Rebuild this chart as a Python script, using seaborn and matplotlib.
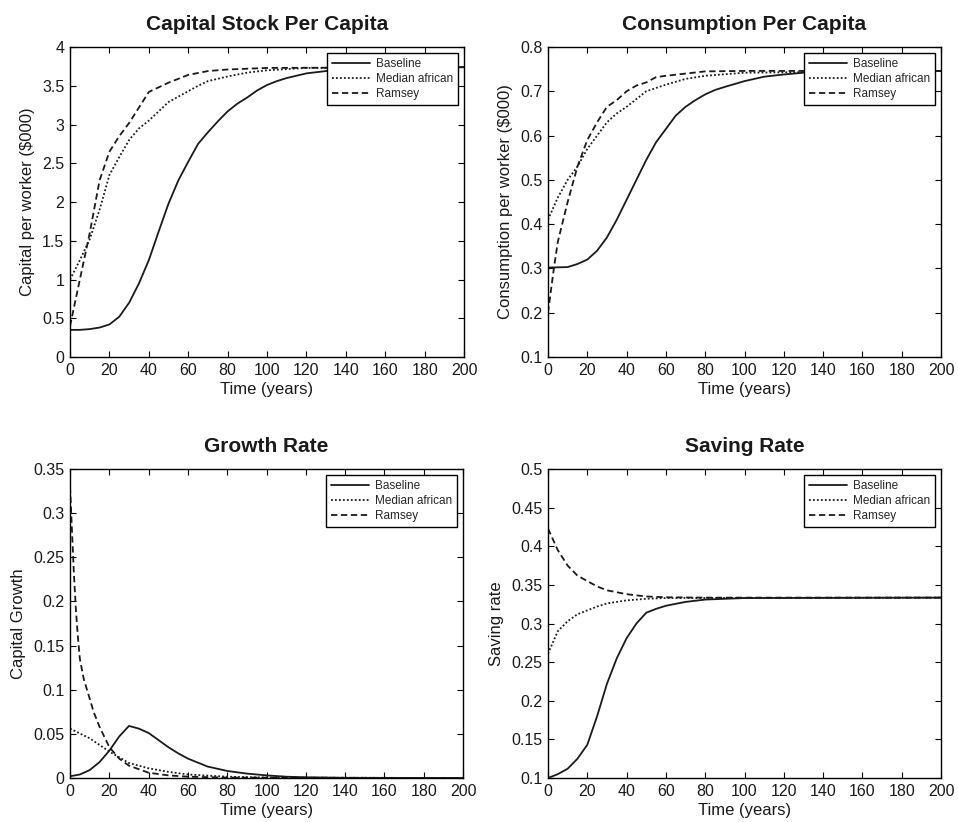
import numpy as np
import pandas as pd
import matplotlib
matplotlib.use("Agg")
import matplotlib.pyplot as plt
from matplotlib.ticker import FuncFormatter
import seaborn as sns

# ---------------- data (time in years) ----------------
# Capital stock per capita
cap_base_t = [0, 5, 10, 15, 20, 25, 30, 35, 40, 45, 50, 55, 60, 65, 70, 75, 80, 85, 90, 95, 100, 105, 110, 115, 120, 130, 140, 150, 160, 200]
cap_base_v = [0.35, 0.35, 0.36, 0.38, 0.42, 0.52, 0.70, 0.95, 1.25, 1.62, 1.98, 2.28, 2.52, 2.75, 2.90, 3.04, 3.17, 3.27, 3.35, 3.44, 3.51, 3.56, 3.60, 3.63, 3.66, 3.69, 3.71, 3.72, 3.73, 3.74]
cap_med_t = [0, 5, 10, 15, 20, 25, 30, 35, 40, 45, 50, 55, 60, 65, 70, 80, 90, 100, 120, 200]
cap_med_v = [1.00, 1.25, 1.52, 1.90, 2.35, 2.58, 2.80, 2.95, 3.05, 3.17, 3.29, 3.36, 3.43, 3.50, 3.56, 3.62, 3.67, 3.70, 3.73, 3.74]
cap_ram_t = [0, 5, 10, 15, 20, 25, 30, 35, 40, 50, 60, 70, 80, 100, 200]
cap_ram_v = [0.40, 1.00, 1.60, 2.28, 2.65, 2.85, 3.02, 3.22, 3.42, 3.54, 3.64, 3.69, 3.71, 3.73, 3.74]

# Consumption per capita
con_base_t = [0, 10, 15, 20, 25, 30, 35, 40, 45, 50, 55, 60, 65, 70, 75, 80, 85, 90, 100, 110, 120, 130, 150, 200]
con_base_v = [0.302, 0.303, 0.310, 0.320, 0.340, 0.370, 0.410, 0.455, 0.500, 0.545, 0.585, 0.615, 0.645, 0.665, 0.680, 0.693, 0.703, 0.710, 0.723, 0.733, 0.738, 0.742, 0.745, 0.746]
con_med_t = [0, 5, 10, 15, 20, 25, 30, 35, 40, 50, 60, 70, 80, 100, 200]
con_med_v = [0.410, 0.460, 0.500, 0.530, 0.570, 0.600, 0.630, 0.650, 0.665, 0.700, 0.715, 0.728, 0.735, 0.742, 0.746]
con_ram_t = [0, 3, 5, 10, 15, 20, 25, 30, 35, 40, 45, 50, 55, 60, 70, 80, 100, 200]
con_ram_v = [0.200, 0.300, 0.360, 0.450, 0.530, 0.590, 0.630, 0.665, 0.680, 0.700, 0.713, 0.720, 0.732, 0.735, 0.740, 0.745, 0.746, 0.746]

# Capital growth rate
gr_base_t = [0, 5, 10, 15, 20, 25, 30, 35, 40, 45, 50, 55, 60, 70, 80, 90, 100, 110, 120, 140, 200]
gr_base_v = [0.002, 0.004, 0.009, 0.018, 0.031, 0.047, 0.059, 0.056, 0.051, 0.043, 0.035, 0.028, 0.022, 0.013, 0.008, 0.005, 0.003, 0.0015, 0.0008, 0.0002, 0.0]
gr_med_t = [0, 10, 20, 30, 40, 50, 60, 80, 100, 200]
gr_med_v = [0.056, 0.045, 0.030, 0.017, 0.011, 0.007, 0.004, 0.0015, 0.0005, 0.0]
gr_ram_t = [0, 1, 2, 3, 4, 5, 7, 10, 12, 15, 20, 25, 30, 40, 50, 60, 80, 200]
gr_ram_v = [0.330, 0.280, 0.230, 0.190, 0.160, 0.135, 0.112, 0.090, 0.075, 0.058, 0.035, 0.022, 0.014, 0.006, 0.003, 0.0015, 0.0005, 0.0]

# Saving rate
sv_base_t = [0, 5, 10, 15, 20, 25, 30, 35, 40, 45, 50, 55, 60, 70, 80, 100, 200]
sv_base_v = [0.100, 0.105, 0.112, 0.125, 0.143, 0.180, 0.222, 0.255, 0.281, 0.300, 0.314, 0.319, 0.323, 0.328, 0.331, 0.333, 0.3335]
sv_med_t = [0, 5, 10, 15, 20, 25, 30, 40, 50, 60, 200]
sv_med_v = [0.261, 0.290, 0.303, 0.312, 0.317, 0.322, 0.326, 0.330, 0.332, 0.333, 0.3335]
sv_ram_t = [0, 5, 10, 15, 20, 25, 30, 40, 50, 60, 80, 200]
sv_ram_v = [0.423, 0.395, 0.375, 0.362, 0.355, 0.348, 0.343, 0.338, 0.335, 0.334, 0.3335, 0.3335]

series_names = ["Baseline", "Median african", "Ramsey"]

titles = ["Capital Stock Per Capita", "Consumption Per Capita", "Growth Rate", "Saving Rate"]
ylabels = ["Capital per worker (\\$000)", "Consumption per worker (\\$000)", "Capital Growth", "Saving rate"]
xlabel = "Time (years)"

x_ticks = list(range(0, 201, 20))
cap_ticks = [0, 0.5, 1, 1.5, 2, 2.5, 3, 3.5, 4]
con_ticks = [0.1, 0.2, 0.3, 0.4, 0.5, 0.6, 0.7, 0.8]
gr_ticks = [0, 0.05, 0.1, 0.15, 0.2, 0.25, 0.3, 0.35]
sv_ticks = [0.1, 0.15, 0.2, 0.25, 0.3, 0.35, 0.4, 0.45, 0.5]

panels = [
    ((cap_base_t, cap_base_v), (cap_med_t, cap_med_v), (cap_ram_t, cap_ram_v), cap_ticks),
    ((con_base_t, con_base_v), (con_med_t, con_med_v), (con_ram_t, con_ram_v), con_ticks),
    ((gr_base_t, gr_base_v), (gr_med_t, gr_med_v), (gr_ram_t, gr_ram_v), gr_ticks),
    ((sv_base_t, sv_base_v), (sv_med_t, sv_med_v), (sv_ram_t, sv_ram_v), sv_ticks),
]

# ---------------- style ----------------
sns.set_style("ticks")
plt.rcParams["font.family"] = ["Liberation Sans", "DejaVu Sans"]
plt.rcParams["xtick.direction"] = "in"
plt.rcParams["ytick.direction"] = "in"
plt.rcParams["xtick.top"] = True
plt.rcParams["ytick.right"] = True

ink = "#1a1a1a"
styles = ["-", (0, (1, 1.2)), (0, (3.5, 2))]

fig = plt.figure(figsize=(9.58, 8.22), dpi=100)
positions = [
    [0.0731, 0.5657, 0.4113, 0.3771],
    [0.5720, 0.5657, 0.4103, 0.3771],
    [0.0731, 0.0535, 0.4103, 0.3759],
    [0.5720, 0.0535, 0.4103, 0.3759],
]

fmt = FuncFormatter(lambda v, p: f"{v:g}")

for pos, (title, ylab, panel) in zip(positions, zip(titles, ylabels, panels)):
    ax = fig.add_axes(pos)
    *curves, yticks = panel
    for (t, v), name, ls in zip(curves, series_names, styles):
        df = pd.DataFrame({"t": t, "v": v})
        sns.lineplot(data=df, x="t", y="v", ax=ax, color=ink, lw=1.3,
                     linestyle=ls, label=name)
    ax.set_xlim(0, 200)
    ax.set_ylim(yticks[0], yticks[-1])
    ax.set_xticks(x_ticks)
    ax.set_yticks(yticks)
    ax.xaxis.set_major_formatter(fmt)
    ax.yaxis.set_major_formatter(fmt)
    ax.tick_params(labelsize=11.5, length=4.5, width=0.8, color="black",
                   labelcolor=ink, pad=4)
    for s in ax.spines.values():
        s.set_linewidth(1.0)
        s.set_color("black")
    ax.set_title(title, fontsize=15, fontweight="bold", pad=12, color=ink)
    ax.set_xlabel(xlabel, fontsize=12, labelpad=3, color=ink)
    ax.set_ylabel(ylab, fontsize=12, labelpad=5, color=ink)
    leg = ax.legend(loc="upper right", fontsize=8.5, frameon=True, fancybox=False,
                    edgecolor="black", framealpha=1, handlelength=3.2,
                    borderaxespad=0.5, borderpad=0.45, labelspacing=0.25,
                    handletextpad=0.5)
    leg.get_frame().set_linewidth(1.0)

fig.savefig("out.png", dpi=100)
